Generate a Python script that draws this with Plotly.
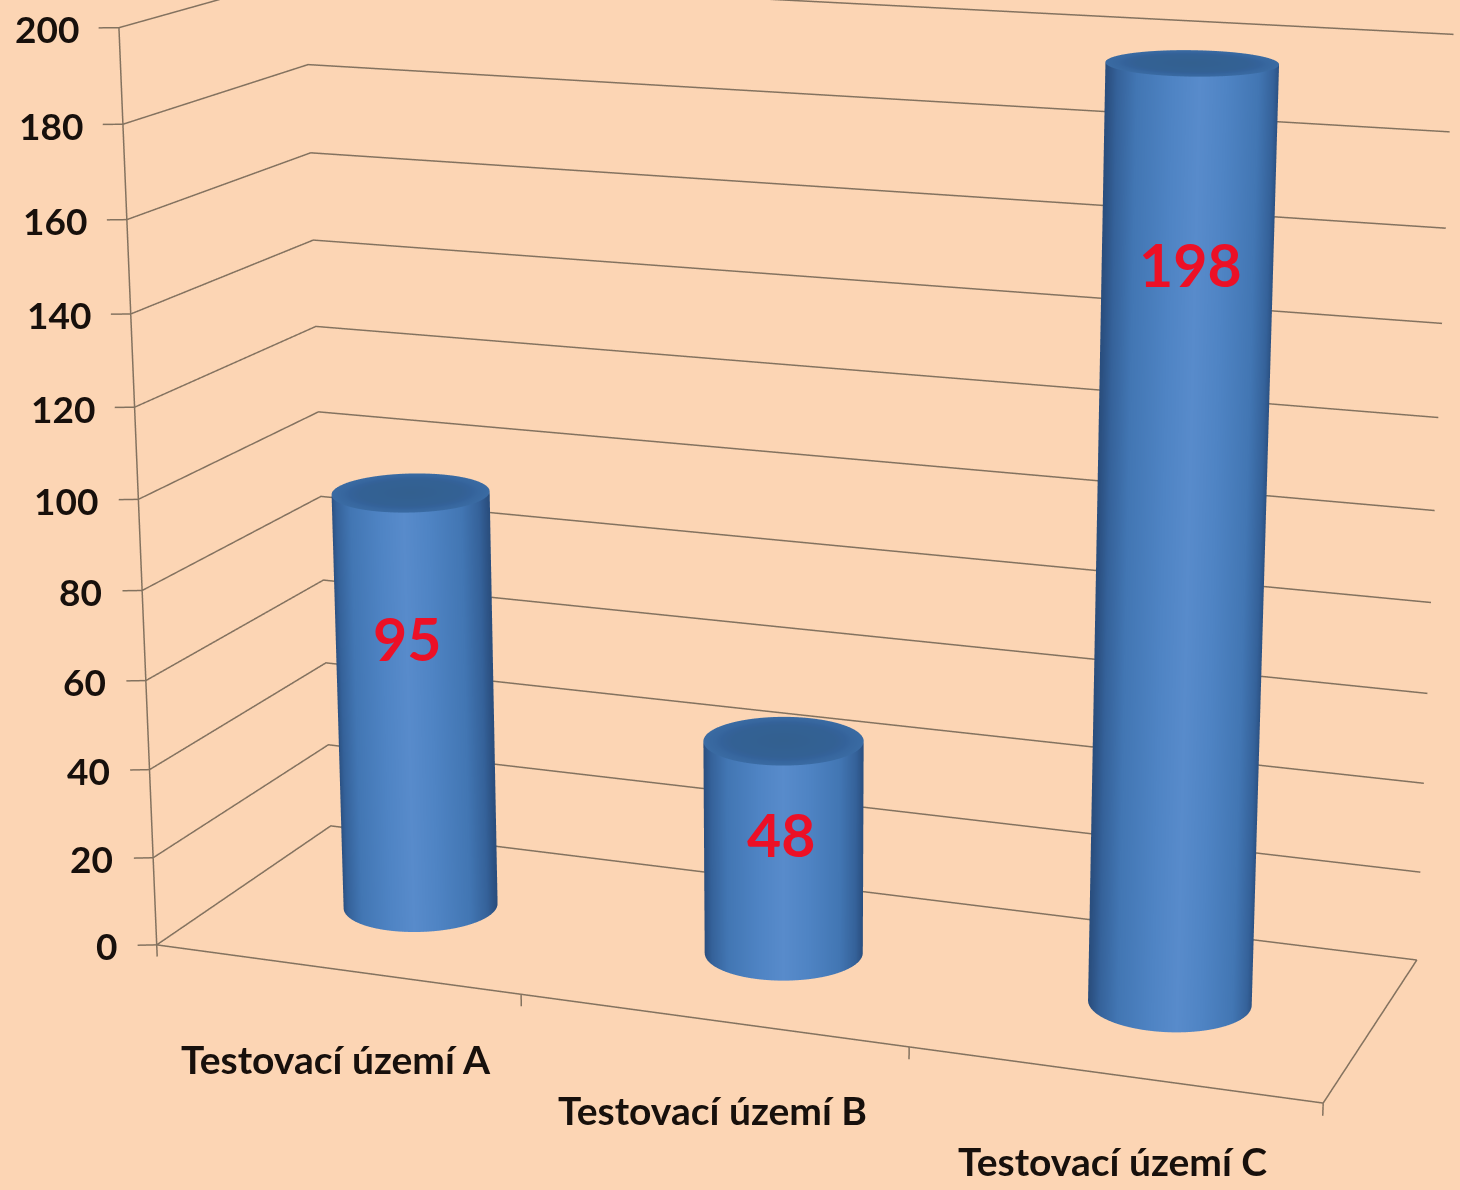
import numpy as np
import plotly.graph_objects as go

categories = ["Testovací území A", "Testovací území B", "Testovací území C"]
values = [95, 48, 198]
z_ticks = list(range(0, 201, 20))

# Camera recovered from the reference's perspective (eye, look-at, focal length, page position)
EYE = (1.19103, -3.19875, 0.88685)
CENTER = (0.01401, 0.0, -0.03870)
UP_X = 0.00148
ASPECT = (1.0, 0.32956, 0.77205)
WIDTH, HEIGHT = 1601, 3599
LEFT, TOP = -0.8, -1246.8
PAD = 1.1

BG = "#FCD5B4"
LINE = "#83725F"
DARK = "#17100C"
RED = "#EC1026"
FONT = "Lato"

rad_world = 0.066
theta = np.linspace(0, 2 * np.pi, 181)
view = np.arctan2(EYE[1], EYE[0])
rx = rad_world / (ASPECT[0] / 3)
ry = rad_world / ASPECT[1]

side_scale = [[0, "#2A4E7E"], [0.1, "#35629A"], [0.3, "#4276B3"], [0.7, "#4F84C4"], [1, "#588BCB"]]
cap_scale = [[0, "#33608F"], [0.6, "#34629A"], [1, "#3A6BA3"]]
flat = dict(ambient=1, diffuse=0, specular=0, roughness=1, fresnel=0)

fig = go.Figure()
for i, v in enumerate(values):
    X = np.array([i + rx * np.cos(theta)] * 2)
    Y = np.array([0.5 + ry * np.sin(theta)] * 2)
    Z = np.array([np.zeros_like(theta), np.full_like(theta, v)])
    S = 1 - np.abs(np.sin(theta - view))
    fig.add_trace(go.Surface(x=X, y=Y, z=Z, surfacecolor=np.array([S, S]), cmin=0, cmax=1,
                             colorscale=side_scale, showscale=False, lighting=flat, hoverinfo="skip"))
    rr = np.array([0, 0.65, 0.85, 1.0])
    X = i + np.outer(rr, rx * np.cos(theta))
    Y = 0.5 + np.outer(rr, ry * np.sin(theta))
    Z = np.full_like(X, v)
    C = np.outer(np.array([0, 0.3, 0.8, 1.0]), np.ones_like(theta))
    fig.add_trace(go.Surface(x=X, y=Y, z=Z, surfacecolor=C, cmin=0, cmax=1,
                             colorscale=cap_scale, showscale=False, lighting=flat, hoverinfo="skip"))

lx, ly, lz = [], [], []
def seg(xs, ys, zs):
    lx.extend(list(xs) + [None])
    ly.extend(list(ys) + [None])
    lz.extend(list(zs) + [None])

x_lo, x_hi = -0.5, len(categories) - 0.5
for t in z_ticks:
    seg([x_lo, x_lo, x_hi], [0, 1, 1], [t, t, t])
    seg([x_lo - 0.044, x_lo], [-0.019, 0], [t, t])
seg([x_lo, x_lo], [0, 0], [0, max(z_ticks)])
seg([x_lo, x_hi, x_hi], [0, 0, 1], [0, 0, 0])
for k in range(len(categories) + 1):
    seg([x_lo + k, x_lo + k], [0, 0], [0, -2.7])
fig.add_trace(go.Scatter3d(x=lx, y=ly, z=lz, mode="lines", line=dict(color=LINE, width=3), hoverinfo="skip"))

label_z = [62, 27, 157.5]
label_dx = [-7, -3, 3]
cat_dy = [-90, -90, -86]
annos = [dict(x=i, y=0, z=0, text=f"<b>{c}</b>", showarrow=False, yshift=dy,
              font=dict(family=FONT, size=39, color=DARK)) for i, (c, dy) in enumerate(zip(categories, cat_dy))]
annos += [dict(x=x_lo, y=0, z=t, text=f"<b>{t}</b>", showarrow=False, xanchor="right", xshift=-38, yshift=-1,
               font=dict(family=FONT, size=37, color=DARK)) for t in z_ticks]
annos += [dict(x=i, y=0.5, z=h, text=f"<b>{v}</b>", showarrow=False, xshift=dx,
               font=dict(family=FONT, size=59, color=RED))
          for i, (v, h, dx) in enumerate(zip(values, label_z, label_dx))]

hidden = dict(visible=False, showspikes=False)
fig.update_layout(
    width=WIDTH, height=HEIGHT, margin=dict(l=0, r=0, t=0, b=0), paper_bgcolor=BG, showlegend=False,
    scene=dict(
        domain=dict(x=[0, 1], y=[0, 1]),
        aspectmode="manual",
        aspectratio=dict(x=ASPECT[0] * PAD, y=ASPECT[1] * PAD, z=ASPECT[2] * PAD),
        camera=dict(eye=dict(x=EYE[0], y=EYE[1], z=EYE[2]),
                    center=dict(x=CENTER[0], y=CENTER[1], z=CENTER[2]),
                    up=dict(x=UP_X, y=0, z=1), projection=dict(type="perspective")),
        xaxis=dict(range=[-0.65, 2.65], **hidden),
        yaxis=dict(range=[-0.05, 1.05], **hidden),
        zaxis=dict(range=[-10, 210], **hidden),
        annotations=annos,
    ),
)
fig.write_html(
    "out.html", config={"displayModeBar": False},
    post_script=(
        "var g=document.getElementById('{plot_id}');g.style.position='absolute';"
        f"g.style.left='{LEFT}px';g.style.top='{TOP}px';"
        "document.body.style.margin='0';document.body.style.overflow='hidden';"
        f"document.documentElement.style.overflow='hidden';document.documentElement.style.background='{BG}';"
    ),
)
